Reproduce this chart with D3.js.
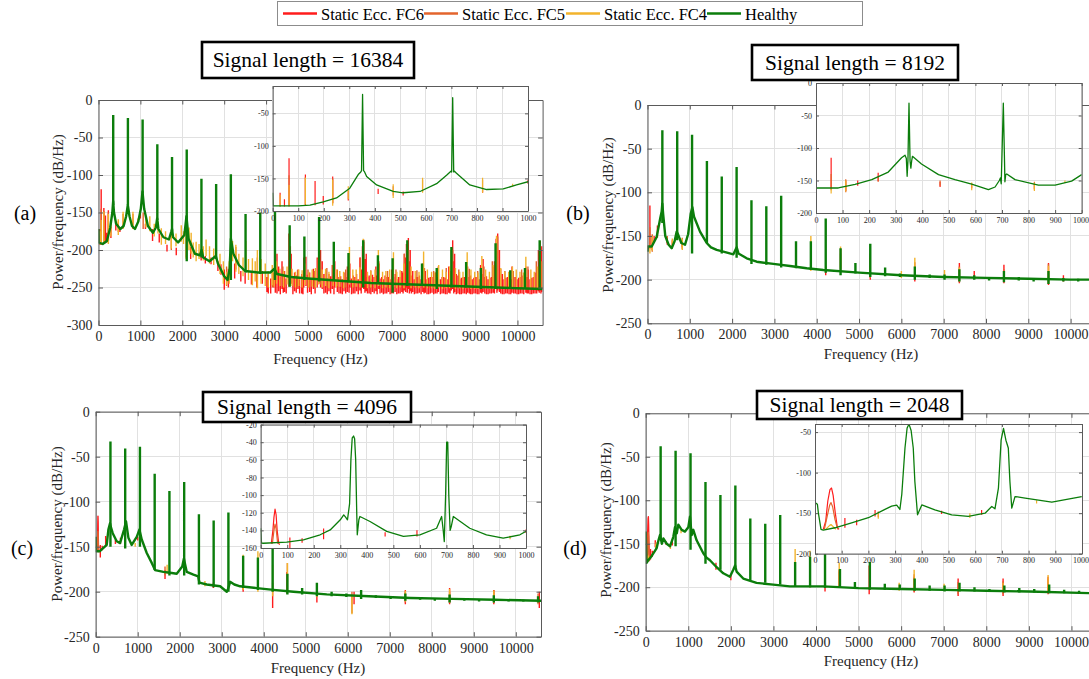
<!DOCTYPE html>
<html><head><meta charset="utf-8">
<script src="https://cdn.jsdelivr.net/npm/d3@7"></script>
<style>
body{margin:0;background:#fff;}
svg, svg text{font-family:"Liberation Serif","Times New Roman",serif;}
</style></head><body>
<script>
// ---------- labels ----------
const seriesNames = ["Static Ecc. FC6", "Static Ecc. FC5", "Static Ecc. FC4", "Healthy"];
const panelTitles = ["Signal length = 16384", "Signal length = 8192", "Signal length = 4096", "Signal length = 2048"];
const panelLetters = ["(a)", "(b)", "(c)", "(d)"];
const freqTicks = [0, 1000, 2000, 3000, 4000, 5000, 6000, 7000, 8000, 9000, 10000];
const insetFreqTicks = [0, 100, 200, 300, 400, 500, 600, 700, 800, 900, 1000];
const dbTicksA = [-300, -250, -200, -150, -100, -50, 0];
const dbTicksMain = [-250, -200, -150, -100, -50, 0];
const insetDbTicksA = [-200, -150, -100, -50];
const insetDbTicksB = [-200, -150, -100, -50, 0];
const insetDbTicksC = [-160, -140, -120, -100, -80, -60, -40, -20];
const insetDbTicksD = [-200, -150, -100, -50];

// ---------- (a) signal length 16384 ----------
// floor of the healthy spectrum [Hz, dB/Hz]
const healthyFloorA = [[0,-172],[5,-190],[100,-192],[200,-188],[280,-170],[330,-150],[350,-135],[370,-150],[420,-165],[520,-172],[600,-168],[660,-155],[700,-140],[740,-155],[800,-168],[870,-172],[950,-162],[1010,-145],[1050,-122],[1090,-145],[1180,-168],[1300,-177],[1370,-170],[1400,-158],[1430,-172],[1550,-183],[1680,-186],[1740,-175],[1755,-172],[1780,-183],[1900,-190],[2050,-180],[2100,-155],[2150,-185],[2300,-205],[2420,-207],[2460,-200],[2500,-210],[2650,-215],[2800,-208],[2850,-218],[3000,-235],[3080,-240],[3130,-225],[3160,-185],[3220,-205],[3350,-220],[3500,-228],[3800,-230],[4100,-230],[4200,-225],[4260,-232],[4600,-236],[5000,-238],[5500,-240],[6000,-242],[6500,-244],[7000,-245],[7500,-246],[8000,-247],[8500,-248],[9000,-249],[9500,-250],[10000,-251],[10600,-252]];
// harmonic lines of the healthy spectrum [Hz, top dB, bottom dB]
const healthyPeaksA = [[351,-20,-140],[702,-24,-140],[1053,-26,-125],[1404,-59,-160],[1755,-76,-175],[2106,-66,-215],[2457,-105,-210],[2808,-112,-212],[3159,-99,-240],[3510,-152,-230],[3861,-150,-232],[4212,-128,-240],[4563,-167,-249],[4914,-182,-240],[5265,-156,-242],[5616,-189,-241],[5967,-204,-243],[6318,-187,-250],[6669,-207,-244],[7020,-211,-257],[7371,-187,-248],[7722,-218,-248],[8073,-224,-252],[8424,-196,-250],[8775,-216,-250],[9126,-224,-252],[9477,-191,-252],[9828,-227,-252],[10179,-224,-252],[10530,-187,-253]];
// fault spectra lines [Hz, top dB, bottom dB]
const fc6A = [[29,-172,-193],[46,-182,-193],[64,-119,-193],[128,-144,-192],[166,-154,-191],[198,-177,-190],[235,-147,-188],[296,-169,-184],[413,-166,-174],[511,-170,-176],[822,-168,-172],[1000,-152,-158],[1120,-165,-172],[1290,-172,-188],[1450,-178,-190],[1635,-193,-202],[1856,-197,-207],[2200,-196,-212],[2450,-205,-214],[2550,-208,-218],[2686,-210,-219],[2850,-215,-228],[2923,-219,-233],[3002,-226,-253],[3100,-225,-250],[3160,-175,-193],[3250,-218,-238],[3397,-228,-242],[3500,-230,-245],[3650,-228,-246],[3780,-232,-250],[3910,-228,-245],[4020,-236,-256],[4052,-232,-258],[4110,-238,-258],[4180,-230,-250],[4220,-228,-257],[4260,-205,-258],[4300,-222,-255],[4340,-235,-259],[4380,-215,-252],[4410,-232,-257],[4440,-228,-256],[4480,-238,-258],[4545,-178,-249],[4600,-205,-245],[4640,-236,-259],[4680,-230,-255],[4720,-234,-257],[4760,-226,-252],[4800,-239,-258],[4850,-232,-258],[4880,-236,-259],[4900,-210,-250],[4950,-209,-248],[4990,-233,-257],[5040,-230,-256],[5080,-239,-259],[5130,-225,-252],[5170,-236,-258],[5220,-210,-250],[5260,-196,-245],[5300,-200,-250],[5340,-215,-252],[5380,-232,-258],[5420,-230,-257],[5460,-238,-259],[5500,-232,-255],[5540,-235,-258],[5580,-220,-252],[5620,-238,-259],[5640,-215,-250],[5700,-232,-256],[5740,-236,-258],[5780,-235,-258],[5820,-239,-259],[5860,-230,-255],[5900,-236,-258],[5940,-222,-256],[5980,-233,-257],[6000,-218,-250],[6040,-238,-259],[6080,-234,-258],[6120,-236,-258],[6160,-232,-255],[6200,-239,-259],[6240,-210,-254],[6270,-226,-258],[6300,-195,-250],[6330,-189,-252],[6360,-212,-257],[6390,-205,-255],[6420,-236,-258],[6460,-234,-258],[6500,-239,-259],[6540,-233,-256],[6580,-236,-258],[6620,-222,-255],[6650,-234,-259],[6690,-215,-252],[6720,-238,-258],[6760,-236,-257],[6800,-239,-259],[6840,-234,-258],[6880,-236,-258],[6920,-236,-256],[6960,-239,-259],[7000,-226,-258],[7040,-236,-258],[7080,-232,-256],[7120,-239,-259],[7160,-236,-258],[7200,-236,-258],[7240,-228,-256],[7270,-230,-258],[7300,-205,-254],[7330,-210,-256],[7350,-192,-250],[7370,-200,-257],[7396,-184,-252],[7420,-215,-258],[7440,-200,-255],[7470,-234,-258],[7500,-228,-256],[7540,-239,-259],[7580,-236,-258],[7620,-236,-258],[7660,-234,-257],[7700,-239,-259],[7740,-218,-256],[7770,-236,-258],[7800,-228,-257],[7840,-239,-259],[7880,-237,-259],[7920,-236,-258],[7960,-236,-257],[8000,-239,-259],[8040,-230,-258],[8080,-236,-258],[8110,-222,-256],[8160,-239,-259],[8200,-236,-258],[8240,-236,-258],[8280,-237,-259],[8320,-239,-259],[8360,-222,-257],[8390,-228,-258],[8420,-200,-254],[8454,-187,-252],[8480,-215,-258],[8500,-205,-256],[8540,-232,-259],[8580,-234,-258],[8620,-239,-259],[8660,-237,-259],[8700,-236,-258],[8740,-236,-258],[8780,-239,-259],[8810,-222,-257],[8850,-236,-258],[8880,-234,-259],[8920,-239,-259],[8960,-237,-258],[9000,-236,-258],[9040,-236,-259],[9080,-239,-259],[9120,-220,-257],[9150,-232,-258],[9180,-212,-256],[9220,-236,-258],[9260,-235,-259],[9300,-239,-259],[9340,-237,-258],[9380,-236,-258],[9420,-222,-257],[9450,-215,-258],[9490,-185,-252],[9510,-200,-257],[9528,-178,-254],[9570,-200,-256],[9600,-225,-258],[9640,-232,-259],[9680,-239,-259],[9720,-237,-258],[9760,-236,-258],[9800,-234,-259],[9840,-239,-259],[9870,-222,-257],[9910,-236,-258],[9950,-236,-258],[9990,-239,-259],[10030,-237,-259],[10070,-236,-258],[10110,-234,-258],[10150,-239,-259],[10200,-222,-257],[10230,-236,-258],[10260,-226,-258],[10300,-239,-259],[10340,-237,-259],[10380,-236,-258],[10420,-230,-258],[10460,-230,-258],[10500,-200,-255],[10520,-205,-257],[10540,-188,-254],[10560,-200,-258],[10580,-195,-256]];
const fc5A = [[64,-145,-192],[128,-148,-190],[235,-150,-188],[472,-162,-176],[587,-152,-170],[822,-152,-170],[1066,-150,-172],[1738,-183,-200],[2094,-165,-210],[3057,-222,-248],[3278,-196,-226],[3792,-210,-250],[4150,-228,-250],[4400,-222,-248],[4580,-195,-246],[4750,-227,-250],[5000,-226,-250],[5150,-228,-250],[5300,-215,-246],[5450,-224,-250],[5700,-226,-248],[5900,-226,-250],[6250,-210,-250],[6330,-186,-248],[6500,-227,-251],[6700,-218,-248],[6900,-228,-251],[7100,-226,-250],[7300,-205,-251],[7400,-200,-248],[7600,-227,-251],[7780,-224,-250],[8000,-228,-251],[8300,-224,-251],[8454,-200,-250],[8600,-226,-251],[8850,-225,-250],[9050,-228,-252],[9200,-222,-250],[9400,-215,-252],[9528,-182,-250],[9700,-228,-252],[9900,-228,-252],[10100,-226,-252],[10250,-222,-252],[10450,-215,-252],[10540,-205,-252]];
const fc4A = [[29,-175,-193],[64,-160,-192],[128,-149,-190],[235,-152,-192],[296,-162,-182],[472,-159,-180],[587,-149,-172],[822,-149,-172],[940,-158,-162],[1130,-158,-170],[1225,-155,-175],[1330,-165,-182],[1420,-162,-178],[1500,-171,-193],[1600,-175,-192],[1738,-178,-198],[1850,-178,-195],[1975,-167,-189],[2030,-175,-192],[2094,-162,-212],[2160,-170,-200],[2212,-177,-205],[2260,-190,-210],[2330,-189,-215],[2400,-192,-212],[2500,-195,-214],[2568,-186,-208],[2650,-195,-218],[2750,-198,-220],[2805,-190,-208],[2900,-205,-232],[2980,-215,-245],[3057,-229,-247],[3120,-215,-245],[3200,-188,-215],[3278,-193,-229],[3350,-205,-232],[3450,-210,-235],[3515,-188,-229],[3580,-212,-240],[3673,-211,-247],[3740,-215,-242],[3792,-200,-251],[3880,-212,-245],[3980,-218,-248],[4050,-228,-250],[4147,-220,-247],[4190,-226,-249],[4250,-215,-245],[4330,-225,-248],[4420,-228,-250],[4500,-222,-246],[4560,-222,-249],[4620,-225,-248],[4700,-229,-250],[4780,-226,-248],[4860,-227,-250],[4930,-218,-247],[5020,-229,-250],[5100,-226,-249],[5180,-224,-250],[5250,-212,-246],[5340,-226,-250],[5420,-225,-248],[5500,-229,-251],[5600,-220,-248],[5680,-226,-250],[5760,-228,-249],[5850,-229,-251],[5990,-196,-246],[6070,-226,-250],[6150,-226,-249],[6240,-223,-250],[6318,-185,-248],[6420,-229,-251],[6500,-228,-250],[6600,-226,-251],[6680,-200,-248],[6780,-229,-251],[6860,-228,-250],[6950,-226,-251],[7040,-203,-250],[7120,-229,-251],[7200,-227,-250],[7290,-218,-251],[7371,-196,-248],[7460,-222,-251],[7560,-228,-250],[7650,-229,-251],[7760,-202,-250],[7850,-226,-251],[7950,-229,-251],[8030,-230,-252],[8120,-220,-250],[8210,-226,-252],[8300,-229,-251],[8380,-222,-251],[8424,-200,-250],[8520,-224,-252],[8620,-229,-251],[8700,-229,-252],[8800,-203,-251],[8890,-226,-252],[8980,-229,-252],[9060,-230,-252],[9150,-208,-251],[9240,-226,-252],[9330,-229,-252],[9420,-220,-252],[9500,-181,-250],[9600,-224,-252],[9700,-229,-252],[9790,-229,-252],[9880,-222,-252],[9970,-226,-252],[10060,-229,-252],[10140,-230,-252],[10200,-209,-252],[10320,-226,-252],[10400,-229,-252],[10480,-222,-252],[10530,-200,-252],[10590,-215,-252]];
// 0-1000 Hz close-up of the healthy spectrum
const insetHealthyA = [[0,-172],[2,-192],[50,-192],[100,-192],[146,-191],[198,-186],[250,-180],[302,-165],[335,-144],[345,-140],[348,-138],[352,-21],[356,-138],[360,-140],[368,-147],[407,-160],[472,-170],[511,-172],[577,-170],[642,-158],[681,-145],[698,-139],[701,-140],[705,-26],[709,-140],[712,-139],[720,-142],[772,-160],[838,-167],[903,-166],[955,-160],[1000,-155]];

// ---------- (b) signal length 8192 ----------
const healthyFloorB = [[0,-168],[10,-162],[100,-162],[217,-151],[300,-130],[335,-122],[350,-113],[370,-125],[420,-150],[500,-160],[571,-164],[640,-156],[690,-145],[720,-148],[800,-158],[887,-160],[960,-148],[1020,-125],[1060,-117],[1100,-128],[1241,-145],[1399,-158],[1500,-163],[1635,-166],[1793,-168],[2029,-171],[2108,-163],[2150,-170],[2344,-175.6],[2580,-179.5],[2975,-182],[3369,-184.4],[3763,-187],[4157,-189],[5000,-192],[6000,-195],[7000,-197],[8000,-198],[9000,-199],[10000,-200],[10600,-200]];
const healthyPeaksB = [[351,-29,-135],[702,-30,-155],[1053,-34,-170],[1404,-64,-158],[1755,-82,-170],[2106,-71,-175],[2457,-109,-182],[2808,-116,-183],[3159,-104,-186],[3510,-156,-187],[3861,-156,-189],[4212,-130,-192],[4563,-164,-195],[4914,-181,-193],[5265,-159,-197],[5616,-186,-196],[5967,-193,-197],[6318,-185,-200],[6669,-194,-198],[7020,-194,-200],[7371,-188,-202],[7722,-195,-200],[8073,-197,-201],[8424,-190,-203],[8775,-197,-201],[9126,-198,-202],[9477,-190,-205],[9828,-198,-202],[10179,-199,-202],[10530,-199,-202]];
const fc6B = [[57,-115,-162],[112,-150,-166],[157,-150,-158],[234,-138,-151],[467,-152,-160],[586,-155,-162],[822,-155,-163],[4212,-185,-195],[4563,-165,-190],[5265,-170,-200],[6318,-188,-202],[7371,-181,-204],[7722,-190,-198],[8424,-183,-204],[9477,-181,-206],[9830,-195,-202]];
const fc5B = [[57,-140,-165],[112,-148,-168],[234,-145,-152],[467,-150,-158],[822,-152,-165],[4563,-170,-188],[5265,-175,-198],[6318,-180,-200],[7371,-185,-203],[8424,-188,-202],[9477,-182,-205]];
const fc4B = [[57,-162,-170],[112,-150,-167],[586,-153,-165],[822,-153,-166],[937,-150,-154],[3861,-150,-190],[4563,-162,-186],[6000,-190,-198],[6318,-175,-198],[7020,-189,-198],[7371,-186,-200],[9477,-184,-203]];
const insetHealthyB = [[0,-168],[2,-161.5],[84,-161.5],[147,-156],[210,-148.7],[272,-137],[322,-115],[335,-111],[340,-116],[343,-143.6],[346,-120],[350,-31],[354,-120],[357,-131],[360,-120],[363,-112.8],[397,-124.6],[461,-141],[523,-148.7],[586,-155.4],[649,-164],[674,-160],[690,-150],[694,-146],[697,-155],[700,-110],[705,-31],[709,-110],[711,-152],[714,-141],[718,-140],[749,-148.7],[837,-157],[900,-157],[962,-151],[1000,-141]];

// ---------- (c) signal length 4096 ----------
const healthyFloorC = [[0,-139],[8,-155],[100,-155],[262,-148],[302,-131],[341,-124],[360,-128],[405,-135],[500,-144],[580,-146],[675,-131],[722,-122],[778,-140],[857,-148],[977,-139],[1040,-131],[1096,-142],[1215,-157],[1334,-168],[1413,-176],[1612,-178],[1771,-179],[1929,-180],[2060,-172],[2100,-163],[2130,-170],[2168,-178],[2326,-181],[2440,-183],[2469,-190],[2644,-192],[2962,-194],[3120,-200],[3150,-197],[3200,-189],[3300,-192],[3438,-194],[3835,-196],[4232,-198],[4708,-200],[5500,-203],[6500,-205],[7500,-207],[8500,-208],[9500,-209],[10600,-210]];
const healthyPeaksC = [[351,-33,-150],[702,-41,-152],[1053,-39,-150],[1404,-69,-176],[1755,-88,-182],[2106,-78,-182],[2457,-114,-192],[2808,-121,-195],[3159,-112,-200],[3510,-160,-196],[3861,-162,-198],[4212,-148,-200],[4563,-180,-203],[4914,-196,-203],[5265,-190,-205],[5616,-200,-205],[5967,-202,-206],[6318,-198,-208],[6669,-204,-207],[7020,-205,-208],[7371,-202,-210],[7722,-206,-209],[8073,-207,-210],[8424,-203,-212],[8775,-207,-210],[9126,-208,-211],[9477,-204,-212],[9828,-208,-211],[10179,-209,-211],[10530,-205,-212]];
const fc6C = [[110,-148,-162],[156,-149,-154],[237,-138,-150],[469,-142,-147],[589,-140,-147],[1000,-139,-143],[1650,-176,-186],[2800,-190,-196],[3510,-190,-200],[4212,-190,-218],[4550,-178,-202],[5265,-200,-212],[6150,-200,-214],[7371,-198,-214],[8424,-196,-214],[9477,-198,-214],[10560,-200,-218]];
const fc5C = [[1650,-172,-182],[3510,-170,-198],[4563,-168,-200],[6100,-200,-224],[7371,-200,-212],[8424,-200,-212],[9477,-198,-212],[10530,-202,-214]];
const fc4C = [[940,-146,-150],[1700,-170,-180],[2600,-188,-194],[3510,-159,-198],[3861,-155,-200],[4212,-170,-205],[4563,-168,-200],[5265,-195,-206],[6100,-205,-225],[6318,-198,-208],[7371,-199,-211],[8424,-197,-212],[9477,-199,-212]];
const bumpFc6C = [[40,-155],[46,-140],[50,-125],[54,-116],[58,-122],[62,-140],[68,-155],[72,-156]];
const bumpFc5C = [[44,-155],[50,-140],[54,-133],[58,-138],[64,-155]];
const insetHealthyC = [[0,-137.6],[3,-154.5],[10,-154.6],[98,-153.4],[161,-150.8],[224,-145],[262,-139.5],[300,-128],[313,-122.5],[320,-125],[327,-128],[335,-110],[340,-60],[345,-35],[350,-33],[354,-36],[358,-60],[362,-120],[364,-145],[370,-128],[374,-124.3],[412,-129.9],[475,-141.2],[538,-146.8],[600,-145],[663,-137.6],[682,-124.3],[688,-140],[692,-152.7],[697,-100],[701,-40],[705,-40],[709,-100],[714,-140],[718,-136],[726,-124.3],[788,-137.6],[851,-145],[914,-148.9],[977,-145],[1000,-141]];

// ---------- (d) signal length 2048 ----------
const healthyFloorD = [[0,-136],[20,-172],[75,-168],[141,-164],[258,-155],[300,-146],[336,-140],[380,-150],[414,-144],[493,-150],[571,-153],[649,-142],[688,-131],[730,-138],[766,-128],[845,-134],[923,-136],[1001,-131],[1040,-119],[1080,-140],[1118,-134],[1196,-146],[1353,-161],[1430,-166],[1509,-169],[1666,-177],[1822,-184],[1978,-188],[2057,-180],[2100,-175],[2135,-182],[2291,-190],[2604,-195],[2995,-197],[3386,-199],[3777,-199],[4168,-199],[5000,-201],[6000,-202],[7000,-203],[8000,-204],[9000,-205],[10600,-207]];
const healthyPeaksD = [[351,-38,-146],[702,-43,-153],[1053,-46,-157],[1404,-79,-173],[1755,-94,-180],[2106,-83,-177],[2457,-121,-192],[2808,-127,-195],[3159,-117,-197],[3510,-171,-199],[3861,-165,-200],[4212,-154,-201],[4563,-179,-201],[4914,-194,-202],[5265,-171,-203],[5616,-196,-203],[5967,-197,-203],[6318,-190,-204],[6669,-198,-204],[7020,-198,-205],[7371,-195,-205],[7722,-200,-205],[8073,-202,-205],[8424,-198,-206],[8775,-201,-206],[9126,-202,-206],[9477,-197,-207],[9828,-203,-207],[10179,-204,-207],[10530,-204,-207]];
const fc6D = [[112,-156,-168],[156,-158,-165],[225,-146,-154],[474,-147,-151],[624,-146,-152],[1650,-172,-180],[2000,-185,-192],[3861,-180,-200],[4212,-195,-205],[4545,-180,-200],[5249,-175,-208],[6305,-188,-206],[7338,-190,-210],[8394,-190,-210],[9451,-188,-208]];
const fc5D = [[237,-148,-155],[4545,-182,-199],[6305,-185,-205],[7338,-194,-208],[8394,-193,-208],[9451,-190,-206]];
const fc4D = [[237,-150,-157],[580,-150,-156],[830,-134,-138],[3510,-156,-199],[3861,-158,-200],[4545,-172,-198],[5953,-195,-204],[6305,-180,-203],[7009,-196,-202],[8394,-195,-205],[9451,-186,-206]];
const bumpFc6D = [[31,-170],[40,-160],[48,-135],[56,-121],[62,-119],[68,-128],[76,-150],[84,-168],[90,-170]];
const bumpFc5D = [[35,-170],[45,-155],[55,-140],[60,-137],[66,-142],[75,-158],[85,-170]];
const bumpFc4D = [[40,-170],[55,-165],[60,-164],[66,-166],[78,-170]];
const insetHealthyD = [[0,-137],[9,-139],[12.5,-149.5],[22.5,-170],[31,-171],[75,-168],[137,-162],[200,-155.6],[262,-145.3],[287,-141.3],[306,-140],[318,-145.4],[325,-127],[337,-69.6],[345,-45],[352,-40.2],[360,-48],[368,-69.6],[374,-111],[384,-152],[400,-139.8],[449,-146],[512,-152],[574,-154],[637,-150],[662,-141.7],[674,-144.6],[687,-119],[697,-60],[706,-45.3],[715,-60],[724,-69.6],[730,-111],[737,-143.8],[749,-129.5],[787,-131.5],[887,-136.5],[999,-129.5]];

// ---------- drawing ----------
const FONT = "'Liberation Serif','Times New Roman',serif";
const COLORS = { fc6: "#ff1c1c", fc5: "#e3642d", fc4: "#f2b32c", healthy: "#0b7d0b" };
const W = 1089, H = 679;
const svg = d3.select("body").append("svg").attr("width", W).attr("height", H)
  .attr("font-family", FONT);
const fmt = d => String(d);
let clipId = 0;

function frame(L, st) {
  const x = d3.scaleLinear().domain(L.xDomain).range([L.x0, L.x1]);
  const y = d3.scaleLinear().domain(L.yDomain).range([L.yBot, L.yTop]);
  const g = svg.append("g");
  g.append("rect").attr("x", L.x0).attr("y", L.yTop)
    .attr("width", L.x1 - L.x0).attr("height", L.yBot - L.yTop).attr("fill", "#fff");
  const grid = g.append("g").attr("stroke", "#e1e1e1").attr("stroke-width", 1).attr("shape-rendering", "crispEdges");
  grid.selectAll(null).data(L.xTicks).join("line")
    .attr("x1", d => x(d)).attr("x2", d => x(d)).attr("y1", L.yTop).attr("y2", L.yBot);
  grid.selectAll(null).data(L.yTicks).join("line")
    .attr("y1", d => y(d)).attr("y2", d => y(d)).attr("x1", L.x0).attr("x2", L.x1);
  const id = "clip" + (clipId++);
  svg.append("clipPath").attr("id", id).append("rect")
    .attr("x", L.x0).attr("y", L.yTop).attr("width", L.x1 - L.x0).attr("height", L.yBot - L.yTop);
  const plot = g.append("g").attr("clip-path", `url(#${id})`);
  return { x, y, g, plot, L, st };
}

function axes(ax) {
  const { x, y, g, L, st } = ax;
  const t = st.tick;
  const style = sel => {
    sel.attr("font-family", FONT);
    sel.select(".domain").attr("stroke", "#5a5a5a").attr("stroke-width", 1);
    sel.selectAll(".tick line").attr("stroke", "#5a5a5a");
    sel.selectAll("text").attr("font-size", st.font).attr("fill", "#262626").attr("font-family", FONT);
  };
  const bx = g.append("g").attr("transform", `translate(0,${L.yBot})`)
    .call(d3.axisBottom(x).tickValues(L.xTicks).tickFormat(fmt).tickSize(-t).tickSizeOuter(0).tickPadding(st.xPad)).call(style);
  // keep the last tick label inside the page
  bx.selectAll(".tick text").attr("text-anchor", function (d) {
    const w = this.getComputedTextLength();
    return x(d) + w / 2 > W - 0.5 ? "end" : "middle";
  }).attr("dx", function (d) {
    const w = this.getComputedTextLength();
    return x(d) + w / 2 > W - 0.5 ? (W - 0.5 - x(d)) : 0;
  });
  g.append("g").attr("transform", `translate(${L.x0},0)`)
    .call(d3.axisLeft(y).tickValues(L.yTicks).tickFormat(fmt).tickSize(-t).tickSizeOuter(0).tickPadding(st.yPad)).call(style);
  g.append("g").attr("transform", `translate(0,${L.yTop})`)
    .call(d3.axisTop(x).tickValues(L.xTicks).tickFormat("").tickSize(-t).tickSizeOuter(0)).call(style);
  g.append("g").attr("transform", `translate(${L.x1},0)`)
    .call(d3.axisRight(y).tickValues(L.yTicks).tickFormat("").tickSize(-t).tickSizeOuter(0)).call(style);
}

function spikes(ax, data, color, width, fmax) {
  const { x, y, plot } = ax;
  const d = data.filter(s => s[0] <= fmax)
    .map(s => `M${x(s[0]).toFixed(2)},${y(s[1]).toFixed(2)}V${y(s[2]).toFixed(2)}`).join("");
  plot.append("path").attr("d", d).attr("fill", "none").attr("stroke", color).attr("stroke-width", width);
}
function curve(ax, data, color, width) {
  const { x, y, plot } = ax;
  plot.append("path").datum(data)
    .attr("d", d3.line().x(d => x(d[0])).y(d => y(d[1])))
    .attr("fill", "none").attr("stroke", color).attr("stroke-width", width).attr("stroke-linejoin", "round");
}

const mainStyle = { tick: 4.5, font: 14, xPad: 6, yPad: 6 };
const insetStyle = { tick: 3, font: 8, xPad: 4, yPad: 4 };

function panel(P) {
  // main spectrum
  const m = frame(P.main, mainStyle);
  const lw = 1.4;
  (P.bumps6 || []).forEach(b => curve(m, b, COLORS.fc6, lw));
  spikes(m, P.fc6, COLORS.fc6, lw, 1e9);
  (P.bumps5 || []).forEach(b => curve(m, b, COLORS.fc5, lw));
  spikes(m, P.fc5, COLORS.fc5, lw, 1e9);
  (P.bumps4 || []).forEach(b => curve(m, b, COLORS.fc4, lw));
  spikes(m, P.fc4, COLORS.fc4, lw, 1e9);
  curve(m, P.floor, COLORS.healthy, 2.4);
  spikes(m, P.peaks, COLORS.healthy, 2.4, 1e9);
  axes(m);

  // 0-1000 Hz inset
  const s = frame(P.inset, insetStyle);
  const il = 1.2;
  (P.bumps6 || []).forEach(b => curve(s, b, COLORS.fc6, il));
  spikes(s, P.fc6, COLORS.fc6, il, 1000);
  (P.bumps5 || []).forEach(b => curve(s, b, COLORS.fc5, il));
  spikes(s, P.fc5, COLORS.fc5, il, 1000);
  (P.bumps4 || []).forEach(b => curve(s, b, COLORS.fc4, il));
  spikes(s, P.fc4, COLORS.fc4, il, 1000);
  curve(s, P.insetHealthy, COLORS.healthy, 1.3);
  axes(s);

  // axis titles
  svg.append("text").attr("x", P.xTitle[0]).attr("y", P.xTitle[1]).attr("text-anchor", "middle")
    .attr("font-size", 15).attr("fill", "#262626").text("Frequency (Hz)");
  svg.append("text").attr("transform", `translate(${P.yTitle[0]},${P.yTitle[1]}) rotate(-90)`)
    .attr("text-anchor", "middle").attr("dominant-baseline", "central")
    .attr("font-size", 15).attr("fill", "#262626").text("Power/frequency (dB/Hz)");
  // boxed title
  const b = P.titleBox;
  svg.append("rect").attr("x", b[0]).attr("y", b[1]).attr("width", b[2]).attr("height", b[3])
    .attr("fill", "#fff").attr("stroke", "#000").attr("stroke-width", 2.6);
  svg.append("text").attr("x", b[0] + b[2] / 2).attr("y", b[1] + b[3] / 2).attr("text-anchor", "middle")
    .attr("dominant-baseline", "central").attr("font-size", 21.5).attr("fill", "#000").text(P.title);
  // panel letter
  svg.append("text").attr("x", P.letter[0]).attr("y", P.letter[1]).attr("text-anchor", "middle")
    .attr("dominant-baseline", "central").attr("font-size", 20).attr("fill", "#000").text(P.letterText);
}

panel({
  main: { xDomain: [0, 10600], yDomain: [-300, 0], x0: 98.5, x1: 542.6, yTop: 100, yBot: 325, xTicks: freqTicks, yTicks: dbTicksA },
  inset: { xDomain: [0, 1000], yDomain: [-200, -8], x0: 272.7, x1: 528, yTop: 86, yBot: 211, xTicks: insetFreqTicks, yTicks: insetDbTicksA },
  floor: healthyFloorA, peaks: healthyPeaksA, fc6: fc6A, fc5: fc5A, fc4: fc4A, insetHealthy: insetHealthyA,
  xTitle: [320.5, 364], yTitle: [58, 212], titleBox: [202, 42, 212, 36], title: panelTitles[0],
  letter: [25, 213], letterText: panelLetters[0]
});
panel({
  main: { xDomain: [0, 10600], yDomain: [-250, 0], x0: 647.5, x1: 1096, yTop: 105, yBot: 323.3, xTicks: freqTicks, yTicks: dbTicksMain },
  inset: { xDomain: [0, 1000], yDomain: [-200, 0], x0: 816, x1: 1081.7, yTop: 83, yBot: 213, xTicks: insetFreqTicks, yTicks: insetDbTicksB },
  floor: healthyFloorB, peaks: healthyPeaksB, fc6: fc6B, fc5: fc5B, fc4: fc4B, insetHealthy: insetHealthyB,
  xTitle: [871, 359], yTitle: [608, 215], titleBox: [752, 45, 206, 35], title: panelTitles[1],
  letter: [578, 213], letterText: panelLetters[1]
});
panel({
  main: { xDomain: [0, 10600], yDomain: [-250, 0], x0: 95.7, x1: 541, yTop: 411.7, yBot: 636.7, xTicks: freqTicks, yTicks: dbTicksMain },
  inset: { xDomain: [0, 1000], yDomain: [-160, -20], x0: 260.7, x1: 526, yTop: 424.6, yBot: 548, xTicks: insetFreqTicks, yTicks: insetDbTicksC },
  floor: healthyFloorC, peaks: healthyPeaksC, fc6: fc6C, fc5: fc5C, fc4: fc4C, insetHealthy: insetHealthyC,
  bumps6: [bumpFc6C], bumps5: [bumpFc5C],
  xTitle: [318, 673], yTitle: [57, 524], titleBox: [203, 392, 208, 30], title: panelTitles[2],
  letter: [22, 548], letterText: panelLetters[2]
});
panel({
  main: { xDomain: [0, 10600], yDomain: [-250, 0], x0: 645.7, x1: 1097, yTop: 413.3, yBot: 630.7, xTicks: freqTicks, yTicks: dbTicksMain },
  inset: { xDomain: [0, 1000], yDomain: [-200, -40], x0: 815, x1: 1082, yTop: 424, yBot: 553.7, xTicks: insetFreqTicks, yTicks: insetDbTicksD },
  floor: healthyFloorD, peaks: healthyPeaksD, fc6: fc6D, fc5: fc5D, fc4: fc4D, insetHealthy: insetHealthyD,
  bumps6: [bumpFc6D], bumps5: [bumpFc5D], bumps4: [bumpFc4D],
  xTitle: [871, 666], yTitle: [606, 520], titleBox: [757, 391, 205, 28], title: panelTitles[3],
  letter: [575, 548], letterText: panelLetters[3]
});

// ---------- legend ----------
const legendColors = [COLORS.fc6, COLORS.fc5, COLORS.fc4, COLORS.healthy];
const legendX = [283, 424, 566, 707];
const lg = svg.append("g");
lg.append("rect").attr("x", 277.5).attr("y", 1.5).attr("width", 585).attr("height", 24)
  .attr("fill", "#fff").attr("stroke", "#8c8c8c").attr("stroke-width", 1);
seriesNames.forEach((n, i) => {
  lg.append("line").attr("x1", legendX[i]).attr("x2", legendX[i] + 34).attr("y1", 13.5).attr("y2", 13.5)
    .attr("stroke", legendColors[i]).attr("stroke-width", 2.5);
  lg.append("text").attr("x", legendX[i] + 38).attr("y", 14).attr("dominant-baseline", "central")
    .attr("font-size", 16.5).attr("fill", "#000").text(n);
});
</script>
</body></html>
